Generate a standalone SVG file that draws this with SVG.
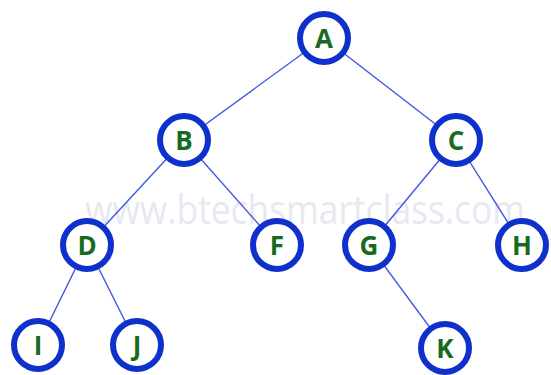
<svg xmlns="http://www.w3.org/2000/svg" width="551" height="375" viewBox="0 0 551 375">
<style>
.e{stroke:#3f57e0;stroke-width:1.4;fill:none}
.n circle{fill:#fff;stroke:#1030cc;stroke-width:6}
.n text{font-family:"Open Sans","Noto Sans",sans-serif;font-weight:bold;font-size:26px;fill:#176b1f;text-anchor:middle;dominant-baseline:central}
.wm{font-family:"Open Sans","Noto Sans",sans-serif;font-size:40px;fill:#e8e8f2}
</style>
<rect width="551" height="375" fill="#fff"/>
<text class="wm" x="85" y="224" textLength="440" lengthAdjust="spacingAndGlyphs">www.btechsmartclass.com</text>
<g id="edges">
<line class="e" x1="324" y1="38" x2="184" y2="140"/>
<line class="e" x1="324" y1="38" x2="456" y2="140"/>
<line class="e" x1="184" y1="140" x2="87" y2="245"/>
<line class="e" x1="184" y1="140" x2="277" y2="245"/>
<line class="e" x1="456" y1="140" x2="369" y2="245"/>
<line class="e" x1="456" y1="140" x2="522" y2="245"/>
<line class="e" x1="87" y1="245" x2="38" y2="345"/>
<line class="e" x1="87" y1="245" x2="137" y2="345"/>
<line class="e" x1="369" y1="245" x2="445" y2="348"/>
</g>
<g id="A" class="n"><circle cx="324" cy="38" r="24"/><text x="324" y="38">A</text></g>
<g id="B" class="n"><circle cx="184" cy="140" r="24"/><text x="184" y="140">B</text></g>
<g id="C" class="n"><circle cx="456" cy="140" r="24"/><text x="456" y="140">C</text></g>
<g id="D" class="n"><circle cx="87" cy="245" r="24"/><text x="87" y="245">D</text></g>
<g id="F" class="n"><circle cx="277" cy="245" r="24"/><text x="277" y="245">F</text></g>
<g id="G" class="n"><circle cx="369" cy="245" r="24"/><text x="369" y="245">G</text></g>
<g id="H" class="n"><circle cx="522" cy="245" r="24"/><text x="522" y="245">H</text></g>
<g id="I" class="n"><circle cx="38" cy="345" r="24"/><text x="38" y="345">I</text></g>
<g id="J" class="n"><circle cx="137" cy="345" r="24"/><text x="137" y="345">J</text></g>
<g id="K" class="n"><circle cx="445" cy="348" r="24"/><text x="445" y="348">K</text></g>
</svg>
